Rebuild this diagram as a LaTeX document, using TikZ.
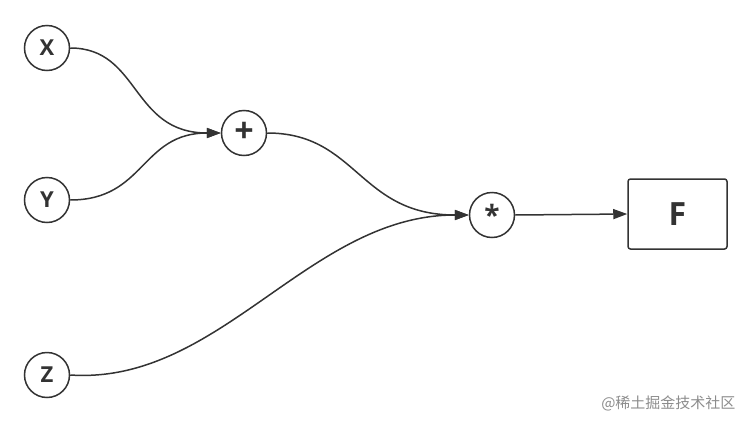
\documentclass[tikz,border=0pt]{standalone}
\usepackage{fontspec}
\setmainfont{Open Sans}
\newfontfamily\cjk{Noto Sans CJK SC}
\usetikzlibrary{arrows.meta}
\definecolor{ink}{HTML}{333333}
\tikzset{
  op/.style={circle, draw=ink, line width=1.5pt, minimum size=45pt, inner sep=0pt, text=ink, font=\fontsize{22}{24}\selectfont\bfseries},
  bigop/.style={op, font=\fontsize{34}{36}\selectfont\bfseries},
  starop/.style={op, font=\fontsize{28}{30}\selectfont\bfseries},
  outbox/.style={rectangle, rounded corners=2.5pt, draw=ink, line width=1.5pt, minimum width=99pt, minimum height=70pt, text=ink, font=\fontsize{32}{34}\selectfont\bfseries},
  link/.style={draw=ink, line width=1.5pt},
  arr/.style={link, -{Triangle[length=14pt,width=10pt]}}
}
\begin{document}
\begin{tikzpicture}[x=1pt,y=-1pt]
\useasboundingbox (0,0) rectangle (753,426);
\node[op] (x) at (47,48) {X};
\node[op] (y) at (47,200) {Y};
\node[op] (z) at (47,375) {Z};
\node[bigop] (plus) at (244,133) {\raisebox{1pt}{+}};
\node[starop] (mul) at (492,215) {\raisebox{-4pt}{*}};
\node[outbox] (f) at (677.5,214) {F};
\draw[arr] (x.east) .. controls +(70,0) and +(-90,0) .. (plus.west);
\draw[arr] (y.east) .. controls +(75,0) and +(-80,0) .. (plus.west);
\draw[arr] (plus.east) .. controls +(90,0) and +(-110,0) .. (mul.west);
\draw[arr] (z.east) .. controls +(150,10) and +(-160,0) .. (mul.west);
\draw[arr] (mul.east) -- (f.west);
\node[text=black!45, font=\cjk\fontsize{15}{17}\selectfont, anchor=east] (wm) at (739,403) {@稀土掘金技术社区};
\end{tikzpicture}
\end{document}
